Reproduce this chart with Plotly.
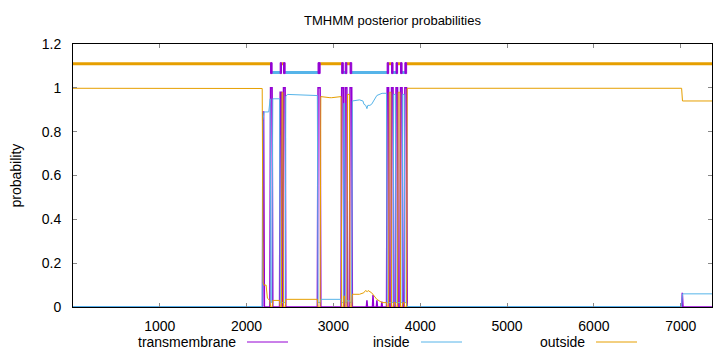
import plotly.graph_objects as go

# ---------------- data ----------------
seq_len = 7360
x_ticks = [1000, 2000, 3000, 4000, 5000, 6000, 7000]
y_ticks = [0, 0.2, 0.4, 0.6, 0.8, 1.0, 1.2]
y_tick_text = ["0", "0.2", "0.4", "0.6", "0.8", "1", "1.2"]

# predicted topology (band at the top)
topo_start = [1, 2276, 2294, 2387, 2402, 2425, 2444, 2823, 2847, 3095, 3114, 3136, 3155,
              3192, 3211, 3619, 3636, 3669, 3687, 3721, 3739, 3773, 3791, 3823, 3843]
topo_end = [2276, 2294, 2387, 2402, 2425, 2444, 2823, 2847, 3095, 3114, 3136, 3155, 3192,
            3211, 3619, 3636, 3669, 3687, 3721, 3739, 3773, 3791, 3823, 3843, 7360]
topo_kind = ["outside", "TM", "inside", "TM", "outside", "TM", "inside", "TM", "outside",
             "TM", "inside", "TM", "outside", "TM", "inside", "TM", "outside", "TM",
             "inside", "TM", "outside", "TM", "inside", "TM", "outside"]

# posterior probability: transmembrane
tm_pos = [1, 2183, 2188, 2196, 2205, 2268, 2276, 2294, 2302, 2380, 2387, 2402, 2408, 2418,
          2425, 2444, 2452, 2815, 2823, 2847, 2855, 3088, 3095, 3114, 3120, 3129, 3136, 3155,
          3162, 3184, 3192, 3211, 3218, 3380, 3386, 3392, 3450, 3456, 3462, 3495, 3501, 3507,
          3552, 3558, 3564, 3612, 3619, 3636, 3643, 3662, 3669, 3687, 3694, 3714, 3721, 3739,
          3746, 3766, 3773, 3791, 3798, 3816, 3823, 3843, 3850, 7012, 7018, 7026, 7360]
tm_prob = [0, 0, 0.89, 0.89, 0, 0, 1.0, 1.0, 0, 0, 0.98, 0.98, 0, 0,
           1.0, 1.0, 0, 0, 1.0, 1.0, 0, 0, 1.0, 1.0, 0, 0, 1.0, 1.0,
           0, 0, 1.0, 1.0, 0, 0, 0.03, 0, 0, 0.055, 0, 0, 0.03, 0,
           0, 0.025, 0, 0, 1.0, 1.0, 0, 0, 1.0, 1.0, 0, 0, 1.0, 1.0,
           0, 0, 1.0, 1.0, 0, 0, 1.0, 1.0, 0, 0, 0.065, 0, 0]

# posterior probability: inside
in_pos = [1, 2180, 2190, 2200, 2255, 2266, 2272, 2280, 2290, 2302, 2380, 2387, 2402, 2418,
          2425, 2444, 2452, 2470, 2800, 2815, 2823, 2847, 2855, 3088, 3095, 3114, 3120, 3129,
          3136, 3155, 3162, 3184, 3192, 3211, 3218, 3300, 3340, 3352, 3372, 3386, 3396, 3420,
          3440, 3470, 3500, 3560, 3612, 3619, 3636, 3643, 3662, 3669, 3687, 3694, 3714, 3721,
          3739, 3746, 3766, 3773, 3791, 3798, 3816, 3823, 3843, 3850, 7010, 7020, 7360]
in_prob = [0.002, 0.002, 0.85, 0.89, 0.89, 0.95, 0.95, 0.02, 0.02, 0.95, 0.95, 0.02, 0.02, 0.02,
           0.02, 0.02, 0.96, 0.97, 0.965, 0.965, 0.02, 0.02, 0.035, 0.035, 0.02, 0.02, 0.93, 0.93,
           0.02, 0.02, 0.03, 0.03, 0.02, 0.02, 0.94, 0.945, 0.94, 0.925, 0.92, 0.905, 0.92, 0.92,
           0.925, 0.945, 0.965, 0.975, 0.975, 0.02, 0.02, 0.02, 0.02, 0.02, 0.02, 0.97, 0.97, 0.02,
           0.02, 0.02, 0.02, 0.02, 0.02, 0.97, 0.97, 0.02, 0.02, 0.002, 0.002, 0.06, 0.06]

# posterior probability: outside
out_pos = [1, 600, 2180, 2190, 2200, 2225, 2240, 2268, 2276, 2294, 2302, 2380, 2387, 2402,
           2408, 2418, 2425, 2444, 2452, 2815, 2823, 2847, 2855, 2960, 2980, 3088, 3095, 3114,
           3120, 3129, 3136, 3155, 3162, 3184, 3192, 3211, 3218, 3300, 3350, 3370, 3390, 3400,
           3420, 3440, 3470, 3500, 3560, 3612, 3619, 3636, 3643, 3662, 3669, 3687, 3694, 3714,
           3721, 3739, 3746, 3766, 3773, 3791, 3798, 3816, 3823, 3843, 3850, 7010, 7020, 7360]
out_prob = [0.998, 0.997, 0.997, 0.11, 0.10, 0.10, 0.04, 0.03, 0.0, 0.0, 0.03, 0.03, 0.0, 0.0,
            0.98, 0.98, 0.0, 0.0, 0.035, 0.035, 0.0, 0.0, 0.96, 0.955, 0.955, 0.96, 0.0, 0.0,
            0.05, 0.05, 0.0, 0.0, 0.97, 0.97, 0.0, 0.0, 0.058, 0.058, 0.065, 0.075, 0.07, 0.075,
            0.07, 0.065, 0.05, 0.035, 0.02, 0.02, 0.0, 0.0, 0.98, 0.98, 0.0, 0.0, 0.02, 0.02,
            0.0, 0.0, 0.98, 0.98, 0.0, 0.0, 0.02, 0.02, 0.0, 0.0, 0.998, 0.998, 0.94, 0.94]

band_levels = {"outside": 1.11, "inside": 1.07}
tm_box = (1.065, 1.115)

c_tm = "#9400D3"
c_in = "#56B4E9"
c_out = "#E69F00"
FONT = "Liberation Sans, Arial, sans-serif"

# ---------------- figure ----------------
fig = go.Figure()

fig.add_trace(go.Scatter(x=tm_pos, y=tm_prob, mode="lines",
                         line=dict(color=c_tm, width=1.5), showlegend=False))
fig.add_trace(go.Scatter(x=in_pos, y=in_prob, mode="lines",
                         line=dict(color=c_in, width=1), showlegend=False))
fig.add_trace(go.Scatter(x=out_pos, y=out_prob, mode="lines",
                         line=dict(color=c_out, width=1), showlegend=False))

# topology band
for kind, col in (("outside", c_out), ("inside", c_in)):
    bx, by = [], []
    for s, e, k in zip(topo_start, topo_end, topo_kind):
        if k == kind:
            bx += [s, e, None]
            by += [band_levels[kind], band_levels[kind], None]
    fig.add_trace(go.Scatter(x=bx, y=by, mode="lines", line=dict(color=col, width=3),
                             showlegend=False))
tx, ty = [], []
for s, e, k in zip(topo_start, topo_end, topo_kind):
    if k == "TM":
        tx += [s, e, e, s, s, None]
        ty += [tm_box[0], tm_box[0], tm_box[1], tm_box[1], tm_box[0], None]
fig.add_trace(go.Scatter(x=tx, y=ty, mode="lines", fill="toself", fillcolor=c_tm,
                         line=dict(color=c_tm, width=1), showlegend=False))

# legend (gnuplot style: text then sample line)
W, H = 720, 352
L_M, R_M, T_M, B_M = 73, 8, 44, 45
pw, ph = W - L_M - R_M, H - T_M - B_M


def px2paper_x(px):
    return (px - L_M) / pw


def py2paper_y(py):
    return (H - B_M - py) / ph


legend_items = [("transmembrane", c_tm, 238, 247, 288),
                ("inside", c_in, 412, 421, 462),
                ("outside", c_out, 587, 596, 637)]
ly = 342
annotations = []
shapes = []
for name, col, tend, l0, l1 in legend_items:
    annotations.append(dict(x=px2paper_x(tend), y=py2paper_y(ly), xref="paper", yref="paper",
                            text=name, showarrow=False, xanchor="right", yanchor="middle",
                            font=dict(family=FONT, size=14, color="#000")))
    shapes.append(dict(type="line", xref="paper", yref="paper",
                       x0=px2paper_x(l0), x1=px2paper_x(l1),
                       y0=py2paper_y(ly), y1=py2paper_y(ly),
                       line=dict(color=col, width=1)))

annotations.append(dict(x=px2paper_x(15), y=0.5, xref="paper", yref="paper",
                        text="probability", textangle=-90, showarrow=False,
                        xanchor="center", yanchor="middle",
                        font=dict(family=FONT, size=14, color="#000")))

fig.update_layout(
    width=W, height=H,
    margin=dict(l=L_M, r=R_M, t=T_M, b=B_M),
    paper_bgcolor="white", plot_bgcolor="white",
    title=dict(text="TMHMM posterior probabilities", x=0.5 * (L_M + W - R_M) / W, y=1 - 20 / H,
               xanchor="center", yanchor="middle",
               font=dict(family=FONT, size=13, color="#000")),
    font=dict(family=FONT, size=14, color="#000"),
    annotations=annotations, shapes=shapes,
    showlegend=False,
)
fig.update_xaxes(range=[1, seq_len], tickvals=x_ticks, ticks="inside", ticklen=4,
                 tickcolor="#888", showline=True, linecolor="#000", linewidth=1,
                 mirror="ticks", showgrid=False, zeroline=False, ticklabelstandoff=6)
fig.update_yaxes(range=[0, 1.2], tickvals=y_ticks, ticktext=y_tick_text, ticks="inside",
                 ticklen=4, tickcolor="#888", showline=True, linecolor="#000", linewidth=1,
                 mirror="ticks", showgrid=False, zeroline=False, ticklabelstandoff=8)

fig.write_html("out.html")
